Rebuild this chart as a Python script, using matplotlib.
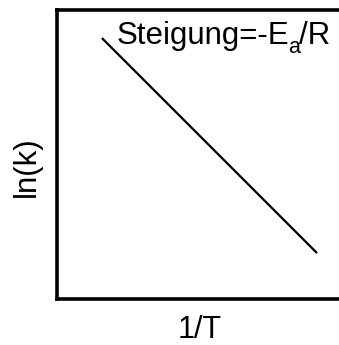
import matplotlib
matplotlib.use("Agg")
import matplotlib.pyplot as plt

# Arrhenius sketch: ln(k) falls linearly with 1/T
inv_T = [0.157, 0.909]
ln_k = [0.902, 0.159]
slope_parts = ["Steigung=-E", "a", "/R"]

plt.rcParams["font.family"] = ["Liberation Sans", "DejaVu Sans"]

fig = plt.figure(figsize=(3.39, 3.45), dpi=100)
ax = fig.add_axes([0.168, 0.133, 0.844, 0.839])

ax.plot(inv_T, ln_k, color="black", lw=1.6, solid_capstyle="butt")
ax.set_xlim(0, 1)
ax.set_ylim(0, 1)
ax.set_xticks([])
ax.set_yticks([])
for side in ("left", "bottom", "top", "right"):
    ax.spines[side].set_linewidth(2.6)

# slope label built from pieces so the subscript sits below the baseline
base_y = 0.88
t1 = ax.text(0.21, base_y, slope_parts[0], fontsize=22.5, va="baseline", ha="left")
t2 = ax.annotate(slope_parts[1], xy=(1, base_y), xycoords=(t1, "data"),
                 xytext=(-1.2, -6), textcoords="offset points",
                 fontsize=15.5, va="baseline", ha="left")
ax.annotate(slope_parts[2], xy=(1, base_y), xycoords=(t2, "data"),
            xytext=(-0.5, 0), textcoords="offset points",
            fontsize=22.5, va="baseline", ha="left")

fig.text(0.59, 0.019, "1/T", fontsize=22, ha="center", va="baseline")
fig.text(0.08, 0.518, "ln(k)", fontsize=22.5, rotation=90, ha="center", va="center")

fig.savefig("out.png", dpi=100)
